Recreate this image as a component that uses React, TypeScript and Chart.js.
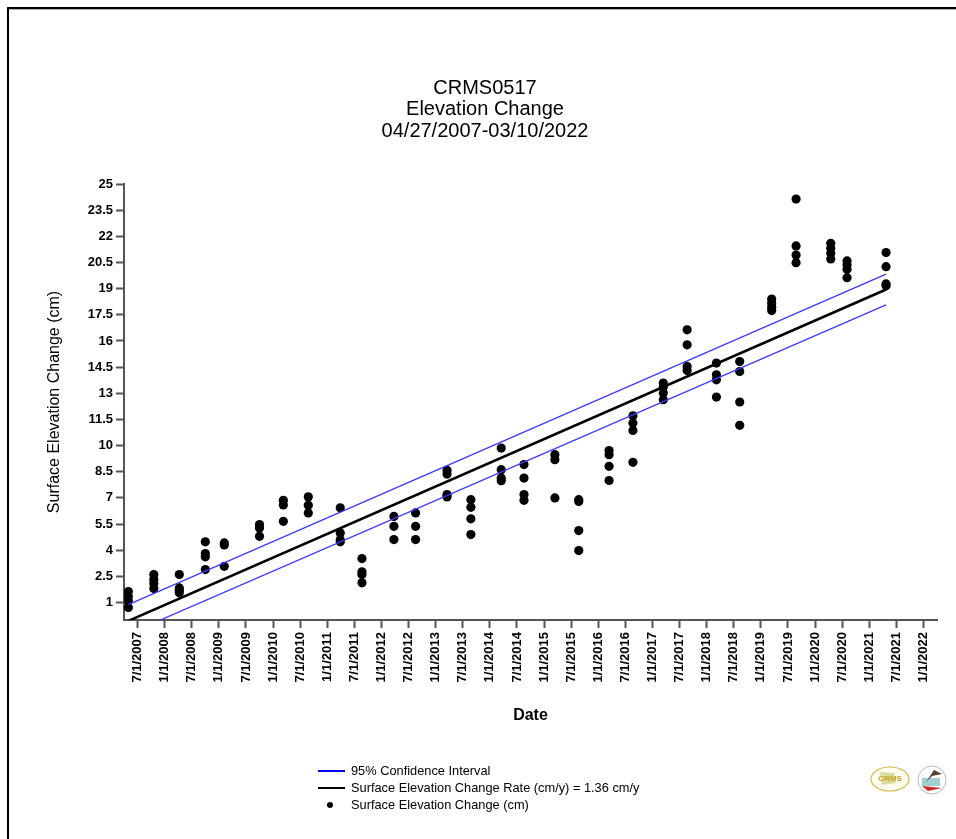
import React, { useEffect, useRef } from "react";
import { Chart, registerables } from "chart.js";

Chart.register(...registerables);

// ---- Data ----
const titleLines = ["CRMS0517", "Elevation Change", "04/27/2007-03/10/2022"];
const yAxisTitle = "Surface Elevation Change (cm)";
const xAxisTitle = "Date";

// survey dates in decimal years
const surveyDates = [
  2007.33, 2007.8, 2008.27, 2008.75, 2009.1, 2009.75, 2010.19, 2010.65, 2011.24, 2011.64,
  2012.23, 2012.63, 2013.21, 2013.65, 2014.21, 2014.63, 2015.2, 2015.64, 2016.2, 2016.64,
  2017.2, 2017.64, 2018.18, 2018.61, 2019.2, 2019.65, 2020.29, 2020.59, 2021.31,
];

// elevation change readings (cm) for each survey date
const surveyReadings = [
  [1.63, 1.35, 1.1, 0.72],
  [2.61, 2.32, 2.09, 1.8],
  [2.61, 1.84, 1.7, 1.56],
  [4.48, 3.81, 3.62, 2.89],
  [4.42, 4.3, 3.08],
  [5.47, 5.28, 4.8],
  [6.86, 6.6, 5.66],
  [7.06, 6.58, 6.14],
  [6.43, 4.99, 4.6, 4.48],
  [3.52, 2.76, 2.61, 2.13],
  [5.94, 5.37, 4.61],
  [6.14, 5.37, 4.61],
  [8.58, 8.37, 7.19, 7.06],
  [6.9, 6.46, 5.8, 4.9],
  [9.86, 8.62, 8.14, 7.99],
  [8.91, 8.14, 7.19, 6.86],
  [9.48, 9.19, 7.0],
  [6.9, 6.8, 5.13, 3.98],
  [9.72, 9.48, 8.81, 8.0],
  [11.71, 11.29, 10.87, 9.04],
  [13.59, 13.36, 13.01, 12.63],
  [16.64, 15.78, 14.54, 14.31],
  [14.73, 14.06, 13.77, 12.78],
  [14.82, 14.25, 12.5, 11.16],
  [18.4, 18.17, 17.94, 17.74],
  [24.14, 21.45, 20.93, 20.49],
  [21.6, 21.32, 21.03, 20.7],
  [20.59, 20.36, 20.11, 19.63],
  [21.07, 20.26, 19.27, 19.16],
];

// regression + confidence interval end points
const trendDates = [2007.33, 2021.31];
const trendValues = [-0.05, 18.95];
const ciUpperValues = [0.88, 19.83];
const ciLowerValues = [-0.8, 18.07];

const yTickValues = [1, 2.5, 4, 5.5, 7, 8.5, 10, 11.5, 13, 14.5, 16, 17.5, 19, 20.5, 22, 23.5, 25];

const xTickValues = [
  2007.5, 2008, 2008.5, 2009, 2009.5, 2010, 2010.5, 2011, 2011.5, 2012, 2012.5, 2013, 2013.5,
  2014, 2014.5, 2015, 2015.5, 2016, 2016.5, 2017, 2017.5, 2018, 2018.5, 2019, 2019.5, 2020,
  2020.5, 2021, 2021.5, 2022,
];
const xTickLabels = [
  "7/1/2007", "1/1/2008", "7/1/2008", "1/1/2009", "7/1/2009", "1/1/2010", "7/1/2010",
  "1/1/2011", "7/1/2011", "1/1/2012", "7/1/2012", "1/1/2013", "7/1/2013", "1/1/2014",
  "7/1/2014", "1/1/2015", "7/1/2015", "1/1/2016", "7/1/2016", "1/1/2017", "7/1/2017",
  "1/1/2018", "7/1/2018", "1/1/2019", "7/1/2019", "1/1/2020", "7/1/2020", "1/1/2021",
  "7/1/2021", "1/1/2022",
];

const legendItems = [
  "95% Confidence Interval",
  "Surface Elevation Change Rate (cm/y) = 1.36 cm/y",
  "Surface Elevation Change (cm)",
];

const FONT = '"Liberation Sans", Arial, sans-serif';
const BLUE = "#3a3aff";
const AXIS = "#555555";

const W = 956;
const H = 839;

const decorPlugin = {
  id: "decor",
  beforeDraw(chart: any) {
    const ctx = chart.ctx;
    ctx.save();
    ctx.fillStyle = "#ffffff";
    ctx.fillRect(0, 0, chart.width, chart.height);
    ctx.restore();
  },
  afterDraw(chart: any) {
    const ctx = chart.ctx;
    const area = chart.chartArea;
    ctx.save();
    // frame
    ctx.fillStyle = "#000";
    ctx.fillRect(7, 7, W - 7, 2);
    ctx.fillRect(7, 7, 2, H - 7);
    ctx.fillStyle = "#b0b0b0";
    ctx.fillRect(9, 9, W - 9, 1);

    // title
    ctx.fillStyle = "#000";
    ctx.textAlign = "center";
    ctx.textBaseline = "middle";
    ctx.font = `20px ${FONT}`;
    titleLines.forEach((t, i) => ctx.fillText(t, 485, 88 + i * 21.5));

    // axis titles
    ctx.font = `bold 16px ${FONT}`;
    ctx.fillText(xAxisTitle, (area.left + area.right) / 2, 716);
    ctx.save();
    ctx.translate(55, (area.top + area.bottom) / 2);
    ctx.rotate(-Math.PI / 2);
    ctx.font = `16px ${FONT}`;
    ctx.fillText(yAxisTitle, 0, 0);
    ctx.restore();

    // legend
    const lx = 318;
    const rows = [771, 788, 805];
    ctx.lineWidth = 2;
    ctx.strokeStyle = "#0000ee";
    ctx.beginPath();
    ctx.moveTo(lx, rows[0]);
    ctx.lineTo(lx + 27, rows[0]);
    ctx.stroke();
    ctx.strokeStyle = "#000";
    ctx.beginPath();
    ctx.moveTo(lx, rows[1]);
    ctx.lineTo(lx + 27, rows[1]);
    ctx.stroke();
    ctx.fillStyle = "#000";
    ctx.beginPath();
    ctx.arc(lx + 12, rows[2], 3, 0, Math.PI * 2);
    ctx.fill();
    ctx.font = `12.8px ${FONT}`;
    ctx.textAlign = "left";
    legendItems.forEach((t, i) => ctx.fillText(t, 351, rows[i]));

    // CRMS logo (approximation)
    ctx.save();
    ctx.translate(890, 779);
    ctx.beginPath();
    ctx.ellipse(0, 0, 19, 12, 0, 0, Math.PI * 2);
    ctx.fillStyle = "#fffdf0";
    ctx.fill();
    ctx.strokeStyle = "#d8b848";
    ctx.lineWidth = 1.2;
    ctx.stroke();
    ctx.fillStyle = "#d9dca0";
    ctx.beginPath();
    ctx.moveTo(-10, -7);
    ctx.lineTo(4, -6);
    ctx.lineTo(6, 4);
    ctx.lineTo(-8, 6);
    ctx.closePath();
    ctx.fill();
    ctx.fillStyle = "#c9a020";
    ctx.font = `bold 8px ${FONT}`;
    ctx.textAlign = "center";
    ctx.fillText("CRMS", 0, 0);
    ctx.restore();

    // second logo (approximation)
    ctx.save();
    ctx.translate(932, 780);
    ctx.beginPath();
    ctx.arc(0, 0, 14, 0, Math.PI * 2);
    ctx.strokeStyle = "#b8b8b8";
    ctx.lineWidth = 1;
    ctx.stroke();
    ctx.fillStyle = "#9fd0d0";
    ctx.fillRect(-10, -2, 18, 8);
    ctx.fillStyle = "#d02828";
    ctx.beginPath();
    ctx.moveTo(-10, 6);
    ctx.lineTo(10, 8);
    ctx.lineTo(-4, 11);
    ctx.closePath();
    ctx.fill();
    ctx.fillStyle = "#5a4030";
    ctx.beginPath();
    ctx.moveTo(-6, 2);
    ctx.lineTo(2, -10);
    ctx.lineTo(10, -6);
    ctx.lineTo(0, -4);
    ctx.closePath();
    ctx.fill();
    ctx.restore();

    ctx.restore();
  },
};

export default function App() {
  const canvasRef = useRef<HTMLCanvasElement | null>(null);

  useEffect(() => {
    if (!canvasRef.current) return;

    const points: { x: number; y: number }[] = [];
    surveyDates.forEach((d, i) => {
      surveyReadings[i].forEach((v) => points.push({ x: d, y: v }));
    });
    const lineData = (vals: number[]) => trendDates.map((d, i) => ({ x: d, y: vals[i] }));

    const chart = new Chart(canvasRef.current, {
      type: "scatter",
      data: {
        datasets: [
          {
            label: "upper",
            data: lineData(ciUpperValues),
            showLine: true,
            borderColor: BLUE,
            borderWidth: 1.3,
            pointRadius: 0,
            clip: 0,
          } as any,
          {
            label: "lower",
            data: lineData(ciLowerValues),
            showLine: true,
            borderColor: BLUE,
            borderWidth: 1.3,
            pointRadius: 0,
            clip: 0,
          } as any,
          {
            label: "trend",
            data: lineData(trendValues),
            showLine: true,
            borderColor: "#000",
            borderWidth: 2.6,
            pointRadius: 0,
            clip: 0,
          } as any,
          {
            label: "points",
            data: points,
            showLine: false,
            pointRadius: 4.6,
            pointHoverRadius: 4.6,
            pointBackgroundColor: "#000",
            pointBorderWidth: 0,
            backgroundColor: "#000",
            borderColor: "#000",
          } as any,
        ],
      },
      options: {
        responsive: false,
        animation: false,
        devicePixelRatio: 1,
        layout: { padding: { left: 0, top: 184, right: 19, bottom: 0 } },
        plugins: {
          legend: { display: false },
          title: { display: false },
          tooltip: { enabled: false },
        },
        events: [],
        scales: {
          x: {
            type: "linear",
            min: 2007.25,
            max: 2022.25,
            afterBuildTicks: (scale: any) => {
              scale.ticks = xTickValues.map((v) => ({ value: v }));
            },
            afterFit: (scale: any) => {
              scale.height = H - 620;
            },
            ticks: {
              autoSkip: false,
              maxRotation: 90,
              minRotation: 90,
              padding: 4,
              color: "#000",
              font: { family: FONT, size: 13, weight: "bold" },
              callback: (_v: any, i: number) => xTickLabels[i],
            },
            grid: {
              drawOnChartArea: false,
              drawTicks: true,
              tickLength: 8,
              tickWidth: 2,
              tickColor: AXIS,
            },
            border: { display: true, color: AXIS, width: 2 },
          },
          y: {
            type: "linear",
            min: 0,
            max: 25,
            afterBuildTicks: (scale: any) => {
              scale.ticks = yTickValues.map((v) => ({ value: v }));
            },
            afterFit: (scale: any) => {
              scale.width = 124;
            },
            ticks: {
              autoSkip: false,
              padding: 3,
              color: "#000",
              font: { family: FONT, size: 13, weight: "bold" },
              callback: (v: any) => String(v),
            },
            grid: {
              drawOnChartArea: false,
              drawTicks: true,
              tickLength: 8,
              tickWidth: 2,
              tickColor: AXIS,
            },
            border: { display: true, color: AXIS, width: 2 },
          },
        },
      } as any,
      plugins: [decorPlugin],
    });

    return () => chart.destroy();
  }, []);

  return (
    <div style={{ position: "absolute", left: 0, top: 0, width: W, height: H, overflow: "hidden" }}>
      <canvas ref={canvasRef} width={W} height={H} style={{ display: "block" }} />
    </div>
  );
}
